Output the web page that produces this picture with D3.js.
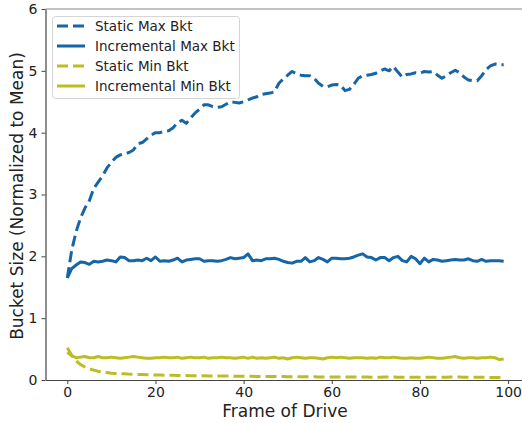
<!DOCTYPE html>
<html>
<head>
  <meta charset="utf-8">
  <title>Bucket Size vs Frame of Drive</title>
  <style>
    html, body { margin: 0; padding: 0; background: #fff; overflow: hidden; }
    svg { display: block; font-family: "DejaVu Sans", sans-serif; }
    .series { fill: none; stroke-width: 3px; stroke-linejoin: round; }
  </style>
</head>
<body>
  <div id="chart"></div>
  <script src="https://d3js.org/d3.v7.min.js"></script>
  <script>
    // Values (frame 0..99)
    const frames = d3.range(0, 100);

    const staticMax = [
      1.65, 2.10, 2.40, 2.62, 2.78, 2.90, 3.10, 3.20, 3.30, 3.43,
      3.52, 3.60, 3.64, 3.66, 3.68, 3.72, 3.82, 3.84, 3.90, 3.96,
      4.00, 4.00, 4.02, 4.03, 4.08, 4.16, 4.20, 4.15, 4.24, 4.32,
      4.38, 4.45, 4.45, 4.42, 4.41, 4.42, 4.46, 4.50, 4.49, 4.48,
      4.50, 4.53, 4.56, 4.58, 4.62, 4.63, 4.64, 4.66, 4.80, 4.87,
      4.93, 4.99, 4.95, 4.93, 4.92, 4.92, 4.88, 4.80, 4.75, 4.74,
      4.77, 4.78, 4.77, 4.68, 4.70, 4.78, 4.88, 4.92, 4.93, 4.94,
      4.96, 5.00, 5.03, 5.00, 5.07, 4.98, 4.90, 4.94, 4.95, 4.97,
      4.96, 4.99, 4.98, 4.99, 4.93, 4.88, 4.92, 4.97, 5.01, 4.97,
      4.90, 4.85, 4.84, 4.84, 4.92, 5.02, 5.08, 5.11, 5.10, 5.10
    ];

    const incrMax = [
      1.65, 1.80, 1.86, 1.91, 1.90, 1.87, 1.92, 1.91, 1.92, 1.94,
      1.93, 1.91, 1.99, 1.98, 1.93, 1.93, 1.94, 1.93, 1.97, 1.93,
      1.99, 1.92, 1.93, 1.92, 1.94, 1.97, 1.91, 1.94, 1.95, 1.96,
      1.96, 1.92, 1.93, 1.93, 1.92, 1.93, 1.95, 1.98, 1.96, 1.97,
      1.98, 2.04, 1.93, 1.94, 1.93, 1.96, 1.96, 1.97, 1.95, 1.92,
      1.90, 1.89, 1.92, 1.92, 1.98, 1.91, 1.93, 1.98, 1.95, 1.91,
      1.97, 1.97, 1.96, 1.96, 1.97, 1.99, 2.02, 2.04, 1.99, 1.98,
      1.94, 1.98, 1.98, 1.93, 1.98, 2.00, 1.93, 1.91, 2.00, 1.96,
      1.88, 1.97, 1.91, 1.95, 1.94, 1.92, 1.93, 1.94, 1.95, 1.94,
      1.94, 1.96, 1.93, 1.92, 1.95, 1.92, 1.93, 1.93, 1.93, 1.92
    ];

    const staticMin = [
      0.52, 0.40, 0.31, 0.25, 0.21, 0.18, 0.16, 0.14, 0.13, 0.12,
      0.11, 0.105, 0.10, 0.10, 0.095, 0.09, 0.09, 0.088, 0.085, 0.083,
      0.08, 0.08, 0.078, 0.077, 0.075, 0.074, 0.072, 0.072, 0.07, 0.069,
      0.068, 0.067, 0.066, 0.066, 0.065, 0.064, 0.063, 0.063, 0.062, 0.061,
      0.06, 0.06, 0.059, 0.058, 0.058, 0.057, 0.056, 0.056, 0.055, 0.055,
      0.054, 0.053, 0.053, 0.052, 0.052, 0.051, 0.051, 0.05, 0.05, 0.05,
      0.05, 0.049, 0.049, 0.048, 0.048, 0.048, 0.047, 0.047, 0.047, 0.046,
      0.046, 0.046, 0.047, 0.047, 0.048, 0.046, 0.045, 0.045, 0.045, 0.044,
      0.044, 0.044, 0.043, 0.043, 0.043, 0.044, 0.045, 0.047, 0.048, 0.047,
      0.045, 0.044, 0.044, 0.043, 0.043, 0.043, 0.042, 0.042, 0.042, 0.042
    ];

    const incrMin = [
      0.45, 0.39, 0.36, 0.37, 0.38, 0.36, 0.36, 0.38, 0.36, 0.36,
      0.37, 0.36, 0.35, 0.36, 0.37, 0.38, 0.37, 0.36, 0.35, 0.35,
      0.36, 0.36, 0.37, 0.36, 0.36, 0.37, 0.35, 0.36, 0.37, 0.36,
      0.36, 0.37, 0.35, 0.36, 0.36, 0.37, 0.36, 0.36, 0.35, 0.36,
      0.37, 0.35, 0.37, 0.35, 0.36, 0.35, 0.36, 0.37, 0.35, 0.36,
      0.34, 0.36, 0.37, 0.36, 0.35, 0.36, 0.36, 0.35, 0.34, 0.36,
      0.37, 0.36, 0.37, 0.36, 0.35, 0.36, 0.36, 0.36, 0.35, 0.36,
      0.35, 0.37, 0.36, 0.36, 0.37, 0.36, 0.35, 0.35, 0.36, 0.35,
      0.35, 0.36, 0.37, 0.36, 0.35, 0.35, 0.36, 0.37, 0.38, 0.36,
      0.35, 0.36, 0.36, 0.35, 0.36, 0.36, 0.37, 0.36, 0.33, 0.34
    ];

    const seriesNames = ["Static Max Bkt", "Incremental Max Bkt", "Static Min Bkt", "Incremental Min Bkt"];
    const seriesValues = [staticMax, incrMax, staticMin, incrMin];
    const seriesColors = ["#1565a7", "#1565a7", "#bcbd22", "#bcbd22"];
    const seriesDashed = [true, false, true, false];

    const xTicks = [0, 20, 40, 60, 80, 100];
    const yTicks = [0, 1, 2, 3, 4, 5, 6];

    const width = 522, height = 423;
    const plot = {left: 45.5, right: 525.5, top: 9, bottom: 380};

    const svg = d3.select("#chart").append("svg")
      .attr("width", width)
      .attr("height", height);

    // matplotlib-style 5% x margins around 0..99
    const x = d3.scaleLinear().domain([-4.95, 103.95]).range([plot.left, plot.right]);
    const y = d3.scaleLinear().domain([0, 6]).range([plot.bottom, plot.top]);

    const line = d3.line()
      .x((d, i) => x(frames[i]))
      .y(d => y(d));

    // draw in legend order
    seriesValues.forEach((vals, k) => {
      svg.append("path")
        .datum(vals)
        .attr("class", "series")
        .attr("stroke", seriesColors[k])
        .attr("stroke-dasharray", seriesDashed[k] ? "11,5" : null)
        .attr("d", line);
    });

    // spines
    svg.append("line")
      .attr("x1", plot.left).attr("x2", plot.right)
      .attr("y1", plot.top).attr("y2", plot.top)
      .attr("stroke", "#888").attr("stroke-width", 1.2);
    svg.append("line")
      .attr("x1", plot.right).attr("x2", plot.right)
      .attr("y1", plot.top).attr("y2", plot.bottom)
      .attr("stroke", "#888").attr("stroke-width", 1.2);

    // axes
    const fmt = d3.format("d");
    const xAxis = svg.append("g")
      .attr("transform", `translate(0,${plot.bottom})`)
      .call(d3.axisBottom(x).tickValues(xTicks).tickFormat(fmt).tickSize(4).tickPadding(3).tickSizeOuter(0));
    const yAxis = svg.append("g")
      .attr("transform", `translate(${plot.left},0)`)
      .call(d3.axisLeft(y).tickValues(yTicks).tickFormat(fmt).tickSize(4).tickPadding(4).tickSizeOuter(0));
    [xAxis, yAxis].forEach(a => {
      a.select(".domain").attr("stroke", "#444").attr("stroke-width", 1.2);
      a.selectAll(".tick line").attr("stroke", "#444").attr("stroke-width", 1);
      a.selectAll(".tick text").attr("font-family", "DejaVu Sans").attr("font-size", 14).attr("fill", "#222");
    });

    // axis titles
    svg.append("text")
      .attr("x", 285).attr("y", 417)
      .attr("text-anchor", "middle")
      .attr("font-size", 17).attr("fill", "#222")
      .text("Frame of Drive");
    svg.append("text")
      .attr("transform", "translate(23,196) rotate(-90)")
      .attr("text-anchor", "middle")
      .attr("font-size", 17).attr("fill", "#222")
      .text("Bucket Size (Normalized to Mean)");

    // legend
    const legend = svg.append("g").attr("transform", "translate(52,16)");
    legend.append("rect")
      .attr("x", 0.5).attr("y", 0.5)
      .attr("width", 187).attr("height", 82)
      .attr("rx", 3)
      .attr("fill", "rgba(255,255,255,0.8)")
      .attr("stroke", "#d5d5d5");
    seriesNames.forEach((name, k) => {
      const cy = 10 + k * 20;
      legend.append("line")
        .attr("x1", 5).attr("x2", 33)
        .attr("y1", cy).attr("y2", cy)
        .attr("stroke", seriesColors[k])
        .attr("stroke-width", 3)
        .attr("stroke-dasharray", seriesDashed[k] ? "11,5" : null);
      legend.append("text")
        .attr("x", 43).attr("y", cy + 5)
        .attr("font-size", 13.5).attr("fill", "#222")
        .text(name);
    });
  </script>
</body>
</html>
